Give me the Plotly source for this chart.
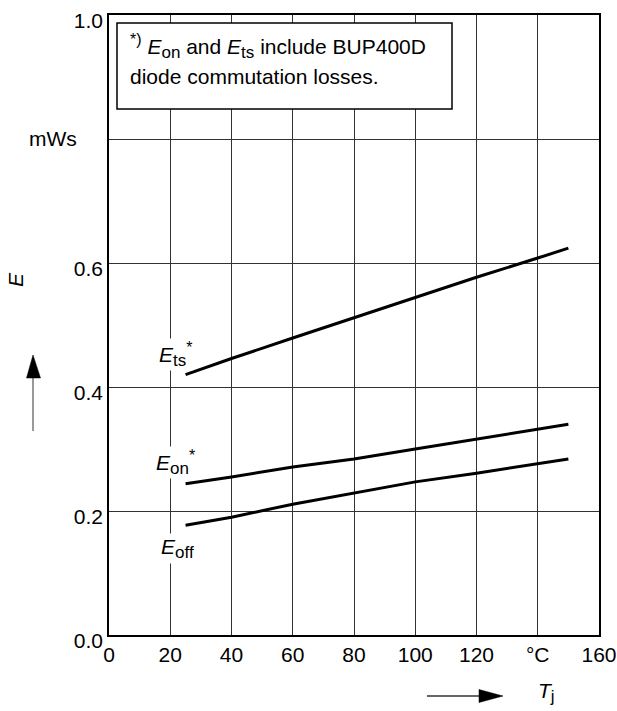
import plotly.graph_objects as go

# Data
tj = [25, 40, 60, 80, 100, 120, 140, 150]
e_ts = [0.420, 0.446, 0.479, 0.512, 0.545, 0.577, 0.608, 0.624]
e_on = [0.244, 0.255, 0.271, 0.284, 0.300, 0.316, 0.332, 0.340]
e_off = [0.177, 0.190, 0.211, 0.229, 0.247, 0.261, 0.276, 0.284]

x_tickvals = [0, 20, 40, 60, 80, 100, 120, 140, 160]
x_ticktext = ["0", "20", "40", "60", "80", "100", "120", "°C", "160"]
y_tickvals = [0.0, 0.2, 0.4, 0.6, 0.8, 1.0]
y_ticktext = ["0.0", "0.2", "0.4", "0.6", "", "1.0"]

FONT = "Liberation Sans, Arial, sans-serif"
FS = 21

# plot area geometry in pixels
L, R, T, B = 109, 599, 15, 635
W, H = R - L, B - T


def px(x):
    return (x - L) / W


def py(y):
    return (B - y) / H


def sub(t):
    return f"<sub><span style='font-size:17px'>{t}</span></sub>"


def sup(t):
    return f"<sup><span style='font-size:16px'>{t}</span></sup>"


fig = go.Figure()
for ys in (e_ts, e_on, e_off):
    fig.add_trace(go.Scatter(x=tj, y=ys, mode="lines",
                             line=dict(color="black", width=3),
                             showlegend=False, hoverinfo="skip"))

axis_common = dict(showline=True, linecolor="black", linewidth=1.5, mirror=True,
                   showgrid=True, gridcolor="#333333", gridwidth=1, automargin=False,
                   zeroline=False, ticks="", tickfont=dict(family=FONT, size=FS, color="black"))

fig.update_xaxes(range=[0, 160], tickvals=x_tickvals, ticktext=x_ticktext,
                 ticklabelstandoff=0, **axis_common)
fig.update_yaxes(range=[0, 1.0], tickvals=y_tickvals, ticktext=y_ticktext,
                 ticklabelshift=6, **axis_common)

shapes = []
# note box
shapes.append(dict(type="rect", xref="paper", yref="paper",
                   x0=px(117), x1=px(452), y0=py(109), y1=py(23),
                   line=dict(color="black", width=1.5), fillcolor="white", layer="above"))
# y arrow
shapes.append(dict(type="line", xref="paper", yref="paper",
                   x0=px(33), x1=px(33), y0=py(431), y1=py(377),
                   line=dict(color="#777777", width=1.5)))
shapes.append(dict(type="path", xref="paper", yref="paper",
                   path=f"M {px(33)},{py(355)} L {px(26.5)},{py(378)} L {px(40.5)},{py(378)} Z",
                   fillcolor="black", line=dict(color="black", width=0.5)))
# x arrow
shapes.append(dict(type="line", xref="paper", yref="paper",
                   x0=px(427), x1=px(481), y0=py(696), y1=py(696),
                   line=dict(color="#333333", width=1.5)))
shapes.append(dict(type="path", xref="paper", yref="paper",
                   path=f"M {px(503)},{py(696)} L {px(479)},{py(689.5)} L {px(479)},{py(702.5)} Z",
                   fillcolor="black", line=dict(color="black", width=0.5)))

ann_font = dict(family=FONT, size=FS, color="black")
annotations = [
    dict(xref="paper", yref="paper", x=px(128), y=py(46), xanchor="left", yanchor="middle",
         text=f"{sup('*)')} <i>E</i>{sub('on')} and <i>E</i>{sub('ts')} include BUP400D",
         showarrow=False, font=ann_font),
    dict(xref="paper", yref="paper", x=px(128), y=py(77), xanchor="left", yanchor="middle",
         text="diode commutation losses.", showarrow=False, font=ann_font),
    dict(xref="paper", yref="paper", x=px(53), y=py(139), xanchor="center", yanchor="middle",
         text="mWs", showarrow=False, font=ann_font),
    dict(xref="paper", yref="paper", x=px(16), y=py(280), xanchor="center", yanchor="middle",
         text="<i>E</i>", textangle=-90, showarrow=False, font=ann_font),
    dict(xref="paper", yref="paper", x=px(546), y=py(692), xanchor="center", yanchor="middle",
         text=f"<i>T</i>{sub('j')}", showarrow=False, font=ann_font),
    # curve labels
    dict(x=21.6, y=0.453, xanchor="center", yanchor="middle",
         text=f"<i>E</i>{sub('ts')}{sup('*')}", showarrow=False, font=ann_font,
         bgcolor="white", borderpad=0),
    dict(x=21.8, y=0.278, xanchor="center", yanchor="middle",
         text=f"<i>E</i>{sub('on')}{sup('*')}", showarrow=False, font=ann_font,
         bgcolor="white", borderpad=0),
    dict(x=22.3, y=0.139, xanchor="center", yanchor="middle",
         text=f"<i>E</i>{sub('off')}", showarrow=False, font=ann_font,
         bgcolor="white", borderpad=1),
]

fig.update_layout(width=617, height=711,
                  margin=dict(l=L, r=617 - R, t=T, b=711 - B, pad=0),
                  paper_bgcolor="white", plot_bgcolor="white",
                  font=dict(family=FONT, size=FS, color="black"),
                  shapes=shapes, annotations=annotations, showlegend=False)

fig.write_html("out.html")
